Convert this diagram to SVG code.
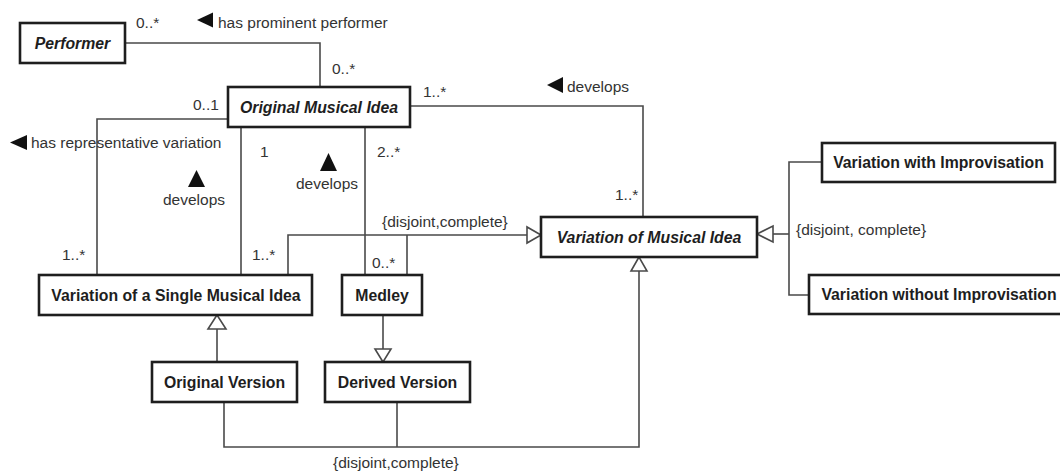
<svg xmlns="http://www.w3.org/2000/svg" width="1060" height="476" viewBox="0 0 1060 476">
  <style>
    .box { fill: #ffffff; stroke: #1e1e1e; stroke-width: 2.6; }
    .name { font-family: "Liberation Sans", Arial, sans-serif; font-size: 15.8px; font-weight: bold; fill: #1e1e1e; text-anchor: middle; }
    .abstract { font-style: italic; }
    .lbl { font-family: "Liberation Sans", Arial, sans-serif; font-size: 15.5px; fill: #333333; }
    .wire { fill: none; stroke: #4a4a4a; stroke-width: 1.6; }
    .gen { fill: #ffffff; stroke: #4a4a4a; stroke-width: 1.6; stroke-linejoin: miter; }
    .dir { fill: #111111; }
  </style>

  <!-- associations and generalizations -->
  <g id="connectors">
    <!-- Performer / Original Musical Idea -->
    <path class="wire" d="M125,43 H320 V87"/>
    <!-- has representative variation -->
    <path class="wire" d="M228,119 H97 V275"/>
    <!-- develops: single idea -->
    <path class="wire" d="M241,127 V275"/>
    <!-- develops: medley -->
    <path class="wire" d="M365,127 V275"/>
    <!-- develops: variation of musical idea -->
    <path class="wire" d="M410,106 H643 V217"/>

    <!-- single idea + medley specialise Variation of Musical Idea -->
    <path class="wire" d="M288,275 V235 H527"/>
    <path class="wire" d="M407,275 V235"/>
    <polygon class="gen" points="541,235 527,227 527,243"/>

    <!-- with / without improvisation -->
    <path class="wire" d="M822,162 H789 V295 H809"/>
    <path class="wire" d="M789,234 H773"/>
    <polygon class="gen" points="757,234 773,226 773,242"/>

    <!-- Original Version specialises single idea -->
    <path class="wire" d="M217,362 V329"/>
    <polygon class="gen" points="217,315 208,329 226,329"/>

    <!-- Medley to Derived Version -->
    <path class="wire" d="M383,315 V349"/>
    <polygon class="gen" points="383,362 375,349 391,349"/>

    <!-- versions specialise Variation of Musical Idea -->
    <path class="wire" d="M224,402 V447 H639 V271"/>
    <path class="wire" d="M397,402 V447"/>
    <polygon class="gen" points="639,257 631,271 647,271"/>
  </g>

  <!-- association names, direction marks, multiplicities, constraints -->
  <g id="labels">
    <text class="lbl" x="136" y="28">0..*</text>
    <polygon class="dir" points="197,20 213,12.5 213,27.5"/>
    <text class="lbl" x="218" y="28">has prominent performer</text>
    <text class="lbl" x="332" y="74">0..*</text>
    <text class="lbl" x="193" y="110">0..1</text>

    <polygon class="dir" points="10,142.5 27,135 27,150"/>
    <text class="lbl" x="31" y="148">has representative variation</text>

    <text class="lbl" x="260" y="157">1</text>
    <text class="lbl" x="377" y="157">2..*</text>

    <polygon class="dir" points="196.5,170 188,187 205,187"/>
    <text class="lbl" x="163" y="205">develops</text>
    <polygon class="dir" points="328.5,153 320,171 337,171"/>
    <text class="lbl" x="296" y="189">develops</text>

    <text class="lbl" x="423" y="97">1..*</text>
    <polygon class="dir" points="547,85 563,77 563,93"/>
    <text class="lbl" x="567" y="92">develops</text>
    <text class="lbl" x="615" y="200">1..*</text>

    <text class="lbl" x="62" y="260">1..*</text>
    <text class="lbl" x="252" y="260">1..*</text>
    <text class="lbl" x="372" y="268">0..*</text>
    <text class="lbl" x="382" y="227">{disjoint,complete}</text>
    <text class="lbl" x="796" y="235">{disjoint, complete}</text>
    <text class="lbl" x="333" y="468">{disjoint,complete}</text>
  </g>

  <g id="performer">
    <rect class="box" x="20" y="23" width="105" height="40"/>
    <text class="name abstract" x="72.5" y="48.5">Performer</text>
  </g>

  <g id="original-musical-idea">
    <rect class="box" x="228" y="87" width="182" height="40"/>
    <text class="name abstract" x="319" y="112.5">Original Musical Idea</text>
  </g>

  <g id="variation-of-a-single-musical-idea">
    <rect class="box" x="39" y="275" width="273" height="40"/>
    <text class="name" x="176" y="300.5">Variation of a Single Musical Idea</text>
  </g>

  <g id="medley">
    <rect class="box" x="342" y="275" width="80" height="40"/>
    <text class="name" x="382" y="300.5">Medley</text>
  </g>

  <g id="original-version">
    <rect class="box" x="152" y="362" width="145" height="40"/>
    <text class="name" x="224.5" y="387.5">Original Version</text>
  </g>

  <g id="derived-version">
    <rect class="box" x="325" y="362" width="145" height="40"/>
    <text class="name" x="397.5" y="387.5">Derived Version</text>
  </g>

  <g id="variation-of-musical-idea">
    <rect class="box" x="541" y="217" width="216" height="40"/>
    <text class="name abstract" x="649" y="242.5">Variation of Musical Idea</text>
  </g>

  <g id="variation-with-improvisation">
    <rect class="box" x="822" y="143" width="233" height="39"/>
    <text class="name" x="938.5" y="168">Variation with Improvisation</text>
  </g>

  <g id="variation-without-improvisation">
    <rect class="box" x="809" y="275" width="260" height="39"/>
    <text class="name" x="939" y="300">Variation without Improvisation</text>
  </g>
</svg>
